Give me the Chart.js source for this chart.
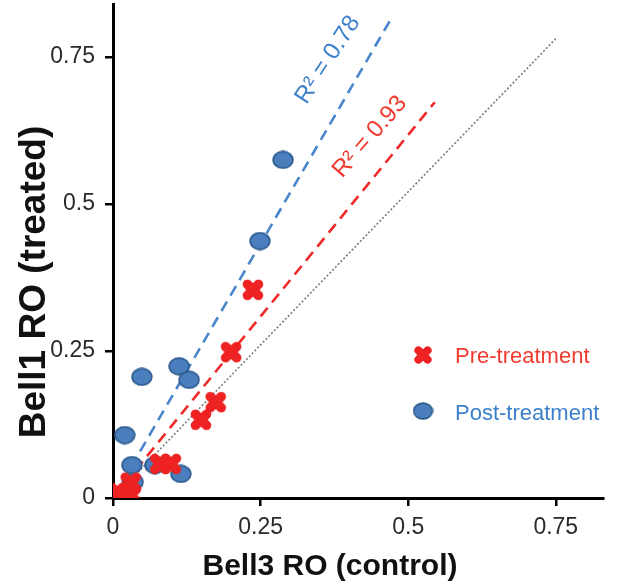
<!DOCTYPE html>
<html>
<head>
<meta charset="utf-8">
<script src="https://cdn.jsdelivr.net/npm/chart.js@4.4.1/dist/chart.umd.min.js"></script>
<style>
  html, body { margin: 0; padding: 0; background: #ffffff; }
  #wrap { width: 626px; height: 586px; position: relative; }
</style>
</head>
<body>
<div id="wrap"><canvas id="c" width="626" height="586"></canvas></div>
<script>
// ---------- data ----------
const xTicks = [0, 0.25, 0.5, 0.75];
const xTickLabels = ['0', '0.25', '0.5', '0.75'];
const yTicks = [0, 0.25, 0.5, 0.75];
const yTickLabels = ['0', '0.25', '0.5', '0.75'];

const preX  = [0.237, 0.200, 0.174, 0.149, 0.080, 0.098, 0.030, 0.007, 0.030];
const preY  = [0.354, 0.248, 0.163, 0.133, 0.058, 0.058, 0.026, 0.009, 0.005];

const postX = [0.288, 0.249, 0.112, 0.129, 0.049, 0.020, 0.032, 0.034, 0.071, 0.115];
const postY = [0.575, 0.437, 0.224, 0.201, 0.206, 0.107, 0.056, 0.027, 0.056, 0.041];

const postFitX = [0, 0.474];
const postFitY = [0, 0.820];
const preFitX  = [0, 0.545];
const preFitY  = [0, 0.673];
const unityX   = [0, 0.751];
const unityY   = [0, 0.782];

const seriesNames = ['Pre-treatment', 'Post-treatment'];
const r2Labels = ['R\u00B2 = 0.78', 'R\u00B2 = 0.93'];
const xTitle = 'Bell3 RO (control)';
const yTitle = 'Bell1 RO (treated)';

// ---------- styles ----------
const RED = '#ee2222';
const RED_TEXT = '#f03a2e';
const BLUE_FILL = '#4a7ebd';
const BLUE_EDGE = '#2d5a8e';
const BLUE_TEXT = '#3d80cc';
const FONT = "'Liberation Sans', Arial, sans-serif";

function makeCross(size) {
  const c = document.createElement('canvas');
  c.width = size; c.height = size;
  const g = c.getContext('2d');
  const m = size * 0.27, e = size - m;
  g.strokeStyle = RED;
  g.lineWidth = size * 0.40;
  g.lineCap = 'round';
  g.beginPath();
  g.moveTo(m, m); g.lineTo(e, e);
  g.moveTo(m, e); g.lineTo(e, m);
  g.stroke();
  return c;
}
function makeDot(w, h) {
  const c = document.createElement('canvas');
  c.width = w; c.height = h;
  const g = c.getContext('2d');
  g.fillStyle = BLUE_FILL;
  g.strokeStyle = BLUE_EDGE;
  g.lineWidth = 1.6;
  g.beginPath();
  g.ellipse(w / 2, h / 2, w / 2 - 1.1, h / 2 - 1.1, 0, 0, Math.PI * 2);
  g.fill(); g.stroke();
  return c;
}
const crossImg = makeCross(24);
const dotImg = makeDot(22, 19);
const crossLegend = makeCross(20);
const dotLegend = makeDot(21, 18);

const toPts = (xs, ys) => xs.map((x, i) => ({ x: x, y: ys[i] }));

const overlay = {
  id: 'overlay',
  afterDraw(chart) {
    const ctx = chart.ctx;
    const xs = chart.scales.x, ys = chart.scales.y;
    ctx.save();
    // R^2 labels (positioned in data coordinates)
    const r2 = [
      { text: r2Labels[0], x: 0.364, y: 0.745, ang: -57, color: BLUE_TEXT },
      { text: r2Labels[1], x: 0.435, y: 0.614, ang: -49, color: RED_TEXT }
    ];
    ctx.font = '24px ' + FONT;
    ctx.textAlign = 'center';
    ctx.textBaseline = 'middle';
    r2.forEach(l => {
      ctx.save();
      ctx.translate(xs.getPixelForValue(l.x), ys.getPixelForValue(l.y));
      ctx.rotate(l.ang * Math.PI / 180);
      ctx.fillStyle = l.color;
      ctx.fillText(l.text, 0, 0);
      ctx.restore();
    });
    // legend
    ctx.drawImage(crossLegend, 423 - crossLegend.width / 2, 355 - crossLegend.height / 2);
    ctx.drawImage(dotLegend, 423 - dotLegend.width / 2, 411 - dotLegend.height / 2);
    ctx.textAlign = 'left';
    ctx.textBaseline = 'alphabetic';
    ctx.font = '22px ' + FONT;
    ctx.fillStyle = RED_TEXT;
    ctx.fillText(seriesNames[0], 455, 363);
    ctx.fillStyle = BLUE_TEXT;
    ctx.fillText(seriesNames[1], 455, 420);
    // axis titles
    ctx.fillStyle = '#111';
    ctx.font = 'bold 30px ' + FONT;
    ctx.textAlign = 'center';
    ctx.fillText(xTitle, 330, 575);
    ctx.save();
    ctx.translate(45, 282);
    ctx.rotate(-Math.PI / 2);
    ctx.font = 'bold 37px ' + FONT;
    ctx.fillText(yTitle, 0, 0);
    ctx.restore();
    ctx.restore();
  }
};

new Chart(document.getElementById('c'), {
  type: 'scatter',
  data: {
    datasets: [
      { label: seriesNames[0], data: toPts(preX, preY), pointStyle: crossImg, pointRadius: 11, showLine: false },
      { label: seriesNames[1], data: toPts(postX, postY), pointStyle: dotImg, pointRadius: 10, showLine: false },
      { label: 'post fit', data: toPts(postFitX, postFitY), showLine: true, pointRadius: 0,
        borderColor: '#4a86cc', borderWidth: 2.6, borderDash: [11, 7] },
      { label: 'pre fit', data: toPts(preFitX, preFitY), showLine: true, pointRadius: 0,
        borderColor: '#ee2a2a', borderWidth: 2.6, borderDash: [11, 7] },
      { label: 'unity', data: toPts(unityX, unityY), showLine: true, pointRadius: 0,
        borderColor: '#7a7a7a', borderWidth: 1.6, borderDash: [2, 2] }
    ]
  },
  options: {
    responsive: false,
    animation: false,
    events: [],
    layout: { autoPadding: false, padding: { top: 4, right: 23, left: 0, bottom: 0 } },
    plugins: { legend: { display: false }, tooltip: { enabled: false } },
    scales: {
      x: {
        type: 'linear', min: 0, max: 0.83,
        afterBuildTicks: s => { s.ticks = xTicks.map(v => ({ value: v })); },
        afterFit: s => { s.height = 88; s.paddingLeft = 0; s.paddingRight = 0; s.paddingTop = 0; s.paddingBottom = 0; },
        ticks: {
          callback: (v, i) => xTickLabels[i],
          font: { family: FONT, size: 23 }, color: '#2a2a2a', padding: 8, maxRotation: 0
        },
        grid: { drawOnChartArea: false, drawTicks: true, tickLength: 8, color: '#000', lineWidth: 2.5 },
        border: { display: true, color: '#000', width: 3 }
      },
      y: {
        type: 'linear', min: 0, max: 0.84,
        afterBuildTicks: s => { s.ticks = yTicks.map(v => ({ value: v })); },
        afterFit: s => { s.width = 113; s.paddingLeft = 0; s.paddingRight = 0; s.paddingTop = 0; s.paddingBottom = 0; },
        ticks: {
          callback: (v, i) => yTickLabels[i],
          font: { family: FONT, size: 23 }, color: '#2a2a2a', padding: 10
        },
        grid: { drawOnChartArea: false, drawTicks: true, tickLength: 8, color: '#000', lineWidth: 2.5 },
        border: { display: true, color: '#000', width: 3 }
      }
    }
  },
  plugins: [overlay]
});
</script>
</body>
</html>
